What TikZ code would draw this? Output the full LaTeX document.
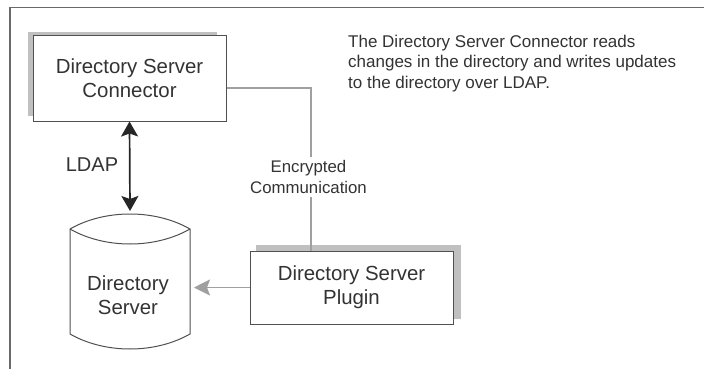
\documentclass[tikz,border=0pt]{standalone}
\usepackage{fontspec}
\setmainfont{Liberation Sans}
\usetikzlibrary{arrows.meta}
\definecolor{inkc}{HTML}{333333}
\definecolor{edgec}{HTML}{505050}
\definecolor{framec}{HTML}{6A6A6A}
\definecolor{shadowc}{HTML}{C0C0C0}
\definecolor{linkc}{HTML}{A0A0A0}
\tikzset{
  x=1pt,y=-1pt,
  boxnode/.style={draw=edgec,line width=1pt,fill=white,text=inkc,font=\fontsize{20.4}{24.4}\selectfont,align=center,inner sep=0pt},
  linkline/.style={draw=linkc,line width=1.6pt},
  linkarrow/.style={linkline,-{Stealth[length=16pt,width=16pt,inset=3pt]}},
  dataarrow/.style={draw=black!85,line width=1.7pt,{Stealth[length=15pt,width=17pt,inset=3pt]}-{Stealth[length=15pt,width=17pt,inset=3pt]}},
  labeltext/.style={text=inkc,inner sep=0pt},
}
\begin{document}
\begin{tikzpicture}
\useasboundingbox (0,0) rectangle (704,369);
\fill[white] (0,0) rectangle (704,369);
\draw[framec,line width=1.7pt] (10,369) -- (10,7.5) -- (704,7.5);
% shadows
\fill[shadowc] (28,32) rectangle (217,116);
\fill[shadowc] (256,245) rectangle (461,319);
% boxes
\node[boxnode,minimum width=193pt,minimum height=85pt] (conn) at (129.5,78.5) {\raisebox{1pt}{\parbox{170pt}{\centering Directory Server\\Connector}}};
\node[boxnode,minimum width=203pt,minimum height=73pt] (plug) at (351.5,287.5) {Directory Server\\Plugin};
% cylinder
\draw[edgec,line width=1pt,fill=white]
  (70,229) .. controls (105,209) and (155,209) .. (190,229)
  -- (190,334) .. controls (155,354) and (105,354) .. (70,334) -- cycle;
\draw[edgec,line width=1pt] (70,229) .. controls (105,249) and (155,249) .. (190,229);
\node[font=\fontsize{20.4}{24.4}\selectfont,text=inkc,align=center,inner sep=0pt] (dir) at (128,295) {Directory\\Server};
\coordinate (dirtop) at (130,211);
\coordinate (dirside) at (194,287.5);
\coordinate (bend) at (311,88);
% labels
\node[labeltext,fill=white,font=\fontsize{16.8}{20.5}\selectfont,align=center,minimum height=40pt] (enc) at (308.5,177) {Encrypted\\Communication};
\node[labeltext,font=\fontsize{20}{24}\selectfont] (ldap) at (92,165) {LDAP};
\node[labeltext,anchor=north west,align=left,font=\fontsize{17}{20.4}\selectfont] (note) at (348,35) {The Directory Server Connector reads\\changes in the directory and writes updates\\to the directory over LDAP.};
% connectors
\draw[linkline] (conn.east |- bend) -- (bend) -- (enc.north -| bend);
\draw[linkline] (enc.south -| bend) -- (plug.north -| bend);
\draw[linkarrow] (plug.west) -- (dirside);
\draw[dataarrow] (conn.south) -- (dirtop);
\end{tikzpicture}
\end{document}
